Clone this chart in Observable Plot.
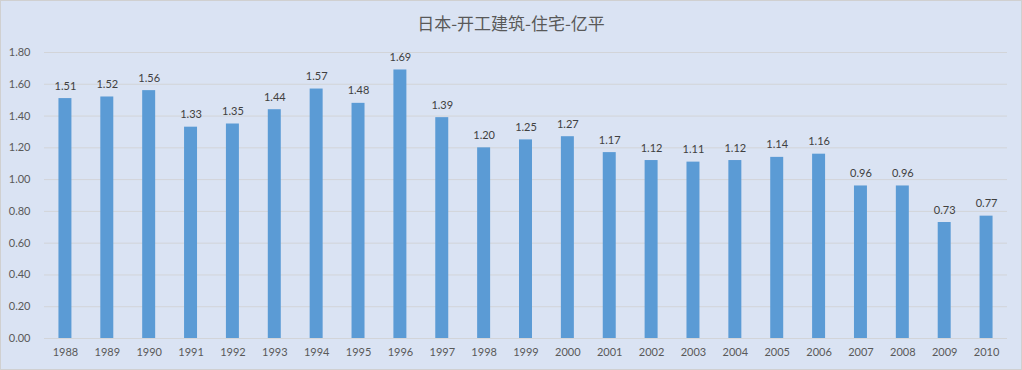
<!DOCTYPE html>
<html><head><meta charset="utf-8">
<script src="https://cdn.jsdelivr.net/npm/d3@7"></script>
<script src="https://cdn.jsdelivr.net/npm/@observablehq/plot@0.6"></script>
<style>
html,body{margin:0;padding:0;background:#dae3f3;}
#wrap{width:1022px;height:370px;box-sizing:border-box;border:1px solid #d0d0d0;background:#dae3f3;position:relative;overflow:hidden;}
#title{height:39px;line-height:44px;text-align:center;font-family:"Noto Sans CJK SC",sans-serif;font-size:17px;color:#595959;}
#chart svg{display:block;}
</style></head>
<body><div id="wrap"><div id="title">日本-开工建筑-住宅-亿平</div><div id="chart"></div></div>
<script>
const years = ["1988","1989","1990","1991","1992","1993","1994","1995","1996","1997","1998","1999","2000","2001","2002","2003","2004","2005","2006","2007","2008","2009","2010"];
const values = [1.51,1.52,1.56,1.33,1.35,1.44,1.57,1.48,1.69,1.39,1.20,1.25,1.27,1.17,1.12,1.11,1.12,1.14,1.16,0.96,0.96,0.73,0.77];
const yTicks = [0,0.2,0.4,0.6,0.8,1.0,1.2,1.4,1.6,1.8];
const data = years.map((y,i)=>({year:y, value:values[i]}));
const chart = Plot.plot({
  width: 1020, height: 329,
  marginLeft: 43, marginRight: 14, marginTop: 12, marginBottom: 31,
  style: {background:"transparent", fontFamily:"Lato, 'Open Sans', sans-serif", fontSize:"11px", color:"#595959"},
  x: {domain: years, paddingInner: 0.69, paddingOuter: 0.345, round: false, label: null, tickSize: 0, tickPadding: 10},
  y: {domain: [0,1.8], ticks: yTicks, tickFormat: d3.format(".2f"), label: null, tickSize: 0, tickPadding: 14},
  marks: [
    Plot.gridY(yTicks, {stroke:"#d2d4d8", strokeOpacity:1, strokeWidth:1}),
    Plot.barY(data, {x:"year", y:"value", fill:"#5b9bd5"}),
    Plot.text(data, {x:"year", y:"value", text:d=>d.value.toFixed(2), lineAnchor:"bottom", dy:-9, fill:"#404040", fontSize:11})
  ]
});
document.getElementById("chart").appendChild(chart);
</script></body></html>
